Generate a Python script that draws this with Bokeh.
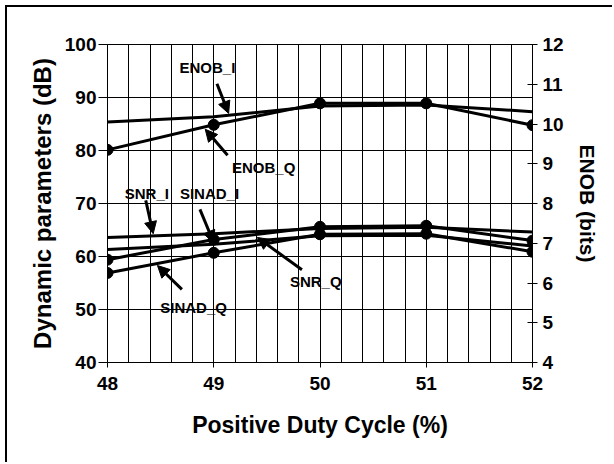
from bokeh.plotting import figure
from bokeh.models import (Range1d, LinearAxis, SingleIntervalTicker, Arrow,
                          NormalHead, ColumnDataSource)
from bokeh.core.properties import value
from bokeh.embed import file_html
from bokeh.resources import INLINE

# ---- data ----
duty_cycle = [48, 49, 50, 51, 52]
enob_i = [10.05, 10.18, 10.45, 10.48, 10.31]
enob_q = [9.35, 9.98, 10.52, 10.52, 9.97]
snr_i = [63.6, 64.3, 65.3, 65.5, 64.6]
snr_q = [61.3, 62.3, 63.9, 64.0, 62.0]
sinad_i = [59.4, 63.2, 65.6, 65.8, 63.0]
sinad_q = [56.9, 60.7, 64.2, 64.3, 60.9]

# annotation labels (x, y in dB scale)
label_text = ["ENOB_I", "ENOB_Q", "SNR_I", "SINAD_I", "SNR_Q", "SINAD_Q"]
label_x = [48.94, 49.47, 48.37, 48.96, 49.96, 48.81]
label_y = [95.6, 76.7, 71.9, 71.9, 55.3, 50.3]
arrow_x0 = [49.03, 49.13, 48.36, 48.87, 49.83, 48.70]
arrow_y0 = [92.6, 79.1, 70.6, 68.9, 57.5, 53.8]
arrow_x1 = [49.14, 48.92, 48.43, 49.00, 49.41, 48.47]
arrow_y1 = [87.0, 84.0, 64.3, 62.6, 63.6, 58.3]

FONT = "Liberation Sans"

p = figure(width=607, height=457, x_range=Range1d(48, 52), y_range=Range1d(40, 100),
           output_backend="svg", toolbar_location=None,
           min_border_left=100, min_border_right=82, min_border_top=37,
           min_border_bottom=102)
p.styles = {"margin-left": "5px", "margin-top": "5px",
            "border-left": "2px solid black", "border-top": "2px solid black"}
p.extra_y_ranges = {"enob": Range1d(4, 12)}
p.outline_line_color = "black"
p.background_fill_color = "white"

# x axis
p.xaxis.ticker = SingleIntervalTicker(interval=1, num_minor_ticks=5)
p.xaxis.axis_label = "Positive Duty Cycle (%)"
p.xaxis.minor_tick_line_color = None
p.xaxis.major_tick_in = 0
p.xaxis.major_tick_out = 5
p.xaxis.major_label_standoff = 9
p.xaxis.axis_label_standoff = 19

# left axis
p.yaxis.ticker = SingleIntervalTicker(interval=10)
p.yaxis.axis_label = "Dynamic parameters (dB)"
p.yaxis.minor_tick_line_color = None
p.yaxis.major_tick_in = 0
p.yaxis.major_tick_out = 9
p.yaxis.major_label_standoff = 2
p.yaxis.axis_label_standoff = 6

# right axis
ax_r = LinearAxis(y_range_name="enob", axis_label="ENOB (bits)",
                  ticker=SingleIntervalTicker(interval=1))
ax_r.minor_tick_line_color = None
ax_r.major_tick_in = 5
ax_r.major_tick_out = 5
ax_r.major_label_standoff = 5
ax_r.axis_label_standoff = 9
p.add_layout(ax_r, "right")

for ax in [p.xaxis[0], p.yaxis[0], ax_r]:
    ax.axis_line_color = "black"
    ax.major_tick_line_color = "black"
    ax.major_label_text_font = FONT
    ax.major_label_text_font_style = "bold"
    ax.major_label_text_font_size = "19px"
    ax.major_label_text_color = "black"
    ax.axis_label_text_font = FONT
    ax.axis_label_text_font_style = "bold"
    ax.axis_label_text_color = "black"
p.xaxis.axis_label_text_font_size = "23px"
p.yaxis.axis_label_text_font_size = "24px"
ax_r.axis_label_text_font_size = "21px"

# grids
p.xgrid.grid_line_color = "black"
p.xgrid.grid_line_width = 1
p.xgrid.minor_grid_line_color = "black"
p.xgrid.minor_grid_line_width = 1
p.ygrid.grid_line_color = "black"
p.ygrid.grid_line_width = 1

# series
p.line(duty_cycle, enob_i, y_range_name="enob", line_color="black", line_width=3)
p.line(duty_cycle, enob_q, y_range_name="enob", line_color="black", line_width=3)
p.scatter(duty_cycle, enob_q, y_range_name="enob", size=11, color="black")
p.line(duty_cycle, snr_i, line_color="black", line_width=3)
p.line(duty_cycle, snr_q, line_color="black", line_width=3)
p.line(duty_cycle, sinad_i, line_color="black", line_width=3)
p.scatter(duty_cycle, sinad_i, size=11, color="black")
p.line(duty_cycle, sinad_q, line_color="black", line_width=3)
p.scatter(duty_cycle, sinad_q, size=11, color="black")

# labels and arrows
src = ColumnDataSource(dict(x=label_x, y=label_y, t=label_text))
p.text(x="x", y="y", text="t", source=src, text_font=value(FONT),
       text_font_style="bold", text_font_size="15px", text_align="center",
       text_baseline="middle", text_color="black")
for x0, y0, x1, y1 in zip(arrow_x0, arrow_y0, arrow_x1, arrow_y1):
    p.add_layout(Arrow(x_start=x0, y_start=y0, x_end=x1, y_end=y1,
                       line_width=3, line_color="black",
                       end=NormalHead(size=12, fill_color="black", line_color="black")))

open("out.html", "w").write(file_html(p, INLINE))
